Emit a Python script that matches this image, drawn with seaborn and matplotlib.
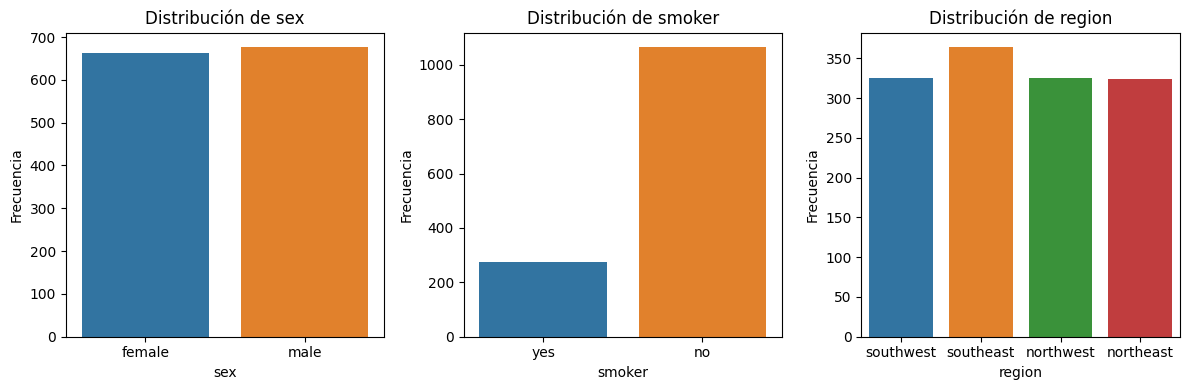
import matplotlib
matplotlib.use("Agg")
import matplotlib.pyplot as plt
import seaborn as sns
import pandas as pd

sex_cats = ["female", "male"]
sex_counts = [662, 676]
smoker_cats = ["yes", "no"]
smoker_counts = [274, 1064]
region_cats = ["southwest", "southeast", "northwest", "northeast"]
region_counts = [325, 364, 325, 324]

panels = [("sex", sex_cats, sex_counts),
          ("smoker", smoker_cats, smoker_counts),
          ("region", region_cats, region_counts)]

fig, axes = plt.subplots(1, 3, figsize=(12, 4), dpi=100)
for ax, (name, cats, counts) in zip(axes, panels):
    df = pd.DataFrame({name: cats, "count": counts})
    sns.barplot(data=df, x=name, y="count", hue=name, order=cats,
                hue_order=cats, palette=sns.color_palette()[:len(cats)],
                legend=False, ax=ax)
    ax.set_title(f"Distribución de {name}")
    ax.set_xlabel(name)
    ax.set_ylabel("Frecuencia")
fig.tight_layout()
fig.savefig("out.png", dpi=100, bbox_inches="tight")
